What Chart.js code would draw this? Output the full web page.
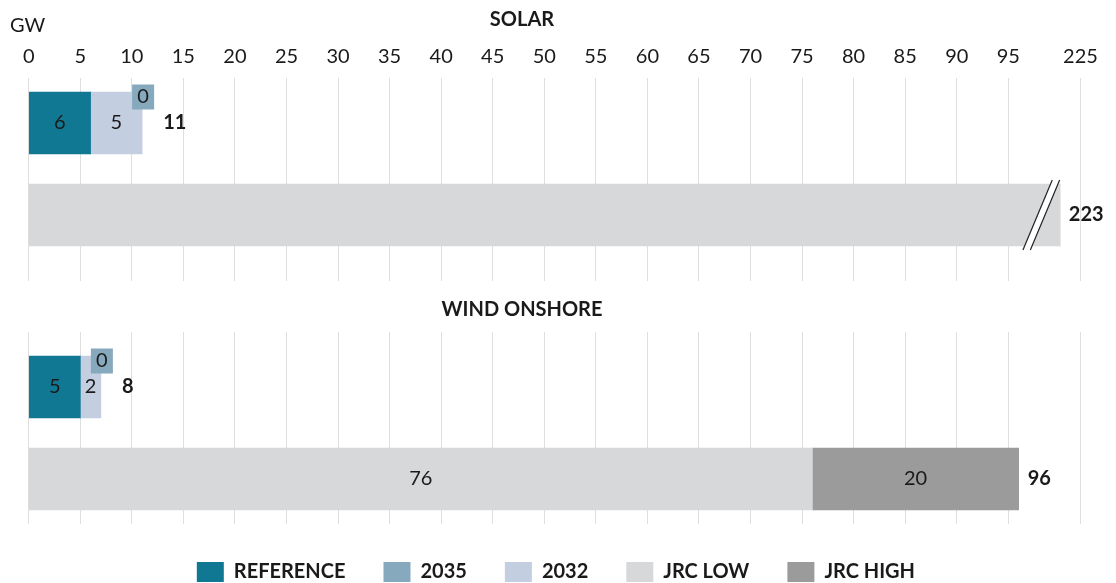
<!DOCTYPE html>
<html>
<head>
<meta charset="utf-8">
<script src="https://cdn.jsdelivr.net/npm/chart.js@4.4.1/dist/chart.umd.min.js"></script>
<style>
  html, body { margin: 0; padding: 0; background: #fff; overflow: hidden; }
  .wrap { position: relative; width: 1116px; }
  #solarWrap { height: 281px; }
  #windWrap { height: 311px; }
</style>
</head>
<body>
<div class="wrap" id="solarWrap"><canvas id="solarChart"></canvas></div>
<div class="wrap" id="windWrap"><canvas id="windChart"></canvas></div>
<script>
// data (GW)
const panels = ['SOLAR', 'WIND ONSHORE'];
const rows = ['National plans', 'JRC potential'];
const reference = [6, 5];
const target2035 = [0, 0];
const target2032 = [5, 2];
const planTotals = [11, 8];
const jrcLow = [223, 76];
const jrcHigh = [0, 20];
const jrcTotals = [223, 96];
const tickValues = [0, 5, 10, 15, 20, 25, 30, 35, 40, 45, 50, 55, 60, 65, 70, 75, 80, 85, 90, 95, 225];

const seriesNames = ['REFERENCE', '2035', '2032', 'JRC LOW', 'JRC HIGH'];
const seriesColors = ['#117894', '#87a9bd', '#c3cee0', '#d7d8da', '#9b9b9b'];
const seriesValues = [reference, target2035, target2032, jrcLow, jrcHigh];
const seriesRow = [0, 0, 0, 1, 1];

// broken axis: everything above BREAK_AT is pulled back by BREAK_SHIFT
const BREAK_AT = 100;
const BREAK_SHIFT = 123;
function toAxis(v) {
    return v > BREAK_AT ? v - BREAK_SHIFT : v;
}

const textColor = '#1a1a1a';
const font = 'Lato';

function buildDatasets(p) {
    return seriesNames.map((name, i) => ({
        label: name,
        data: [{ y: seriesRow[i], x: toAxis(seriesValues[i][p]) }],
        backgroundColor: seriesColors[i],
        borderWidth: 0,
        barThickness: 62,
    }));
}

const labelPlugin = {
    id: 'barLabels',
    afterDatasetsDraw(chart) {
        const p = chart.options.plugins.barLabels.panel;
        const ctx = chart.ctx;
        const xs = chart.scales.x;
        const ys = chart.scales.y;
        ctx.save();
        ctx.fillStyle = textColor;
        ctx.textAlign = 'center';
        ctx.textBaseline = 'middle';
        ctx.font = '20px ' + font;

        // values inside segments
        chart.data.datasets.forEach((ds, di) => {
            if (di === 1) return;
            const raw = seriesValues[di][p];
            if (!raw || raw > BREAK_AT) return;
            const bar = chart.getDatasetMeta(di).data[0];
            ctx.fillText(raw, (bar.x + bar.base) / 2, bar.y);
        });

        // 2035 tag at the end of the plan stack
        const planY = ys.getPixelForValue(seriesRow[0]);
        const planEnd = xs.getPixelForValue(reference[p] + target2035[p] + target2032[p]);
        ctx.fillStyle = seriesColors[1];
        ctx.fillRect(planEnd + 1 - 11, planY - 26 - 12.5, 22, 25);
        ctx.fillStyle = textColor;
        ctx.fillText(target2035[p], planEnd + 1, planY - 26);

        // break marks
        const jrcY = ys.getPixelForValue(seriesRow[3]);
        if (jrcLow[p] > BREAK_AT) {
            const cx = xs.getPixelForValue(98.2);
            const h = 35, slope = 29.3 / 70, gap = 3.7;
            const xAt = (y, d) => cx + (jrcY - y) * slope + d;
            ctx.beginPath();
            ctx.moveTo(xAt(jrcY + h, -gap), jrcY + h);
            ctx.lineTo(xAt(jrcY - h, -gap), jrcY - h);
            ctx.lineTo(xAt(jrcY - h, gap), jrcY - h);
            ctx.lineTo(xAt(jrcY + h, gap), jrcY + h);
            ctx.closePath();
            ctx.fillStyle = '#ffffff';
            ctx.fill();
            ctx.strokeStyle = '#222';
            ctx.lineWidth = 1.2;
            [-gap, gap].forEach(d => {
                ctx.beginPath();
                ctx.moveTo(xAt(jrcY + h, d), jrcY + h);
                ctx.lineTo(xAt(jrcY - h, d), jrcY - h);
                ctx.stroke();
            });
        }

        // totals
        ctx.fillStyle = textColor;
        ctx.textAlign = 'left';
        ctx.font = 'bold 20px ' + font;
        ctx.fillText(planTotals[p], planEnd + 21, planY);
        const jrcEnd = xs.getPixelForValue(toAxis(jrcLow[p]) + jrcHigh[p]);
        ctx.fillText(jrcTotals[p], jrcEnd + 9, jrcY);

        // panel title
        const t = chart.options.plugins.barLabels;
        ctx.textAlign = 'center';
        ctx.fillText(panels[p], 522, t.titleY);
        if (t.unit) {
            ctx.textAlign = 'left';
            ctx.font = '20px ' + font;
            ctx.fillText(t.unit, 10, 26);
        }
        ctx.restore();
    }
};

function makeChart(canvasId, p, opts) {
    return new Chart(document.getElementById(canvasId), {
        type: 'bar',
        data: { datasets: buildDatasets(p) },
        options: {
            indexAxis: 'y',
            responsive: true,
            maintainAspectRatio: false,
            animation: false,
            layout: { padding: { left: 28.7, right: opts.padRight, top: 0, bottom: 0 } },
            scales: {
                x: {
                    type: 'linear',
                    position: 'top',
                    stacked: true,
                    offset: false,
                    min: 0,
                    max: opts.xMax,
                    afterBuildTicks: (axis) => {
                        axis.ticks = tickValues.map(v => ({ value: toAxis(v) }));
                    },
                    afterFit: (axis) => {
                        axis.height = opts.axisHeight;
                    },
                    grid: { color: '#dedede', lineWidth: 1, drawTicks: false },
                    border: { display: false },
                    ticks: {
                        display: opts.showTicks,
                        autoSkip: false,
                        maxRotation: 0,
                        padding: 9,
                        color: textColor,
                        font: { family: font, size: 20 },
                        callback: (value, index) => tickValues[index],
                    },
                },
                y: {
                    type: 'linear',
                    display: false,
                    stacked: true,
                    offset: false,
                    reverse: true,
                    min: opts.yMin,
                    max: opts.yMax,
                },
            },
            plugins: {
                legend: {
                    display: opts.legend,
                    position: 'bottom',
                    labels: {
                        boxWidth: 27,
                        boxHeight: 20,
                        padding: 38,
                        color: textColor,
                        font: { family: font, size: 20, weight: 'bold' },
                    },
                },
                tooltip: { enabled: false },
                barLabels: { panel: p, titleY: opts.titleY, unit: opts.unit },
            },
        },
        plugins: [labelPlugin],
    });
}

const solarChart = makeChart('solarChart', 0, {
    padRight: 14.9, xMax: 104, axisHeight: 78, showTicks: true,
    yMin: -0.489, yMax: 1.717, legend: false, titleY: 20, unit: 'GW',
});

const windChart = makeChart('windChart', 1, {
    padRight: 32.9, xMax: 102.25, axisHeight: 51, showTicks: false,
    yMin: -0.598, yMax: 1.489, legend: true, titleY: 29, unit: null,
});
</script>
</body>
</html>
